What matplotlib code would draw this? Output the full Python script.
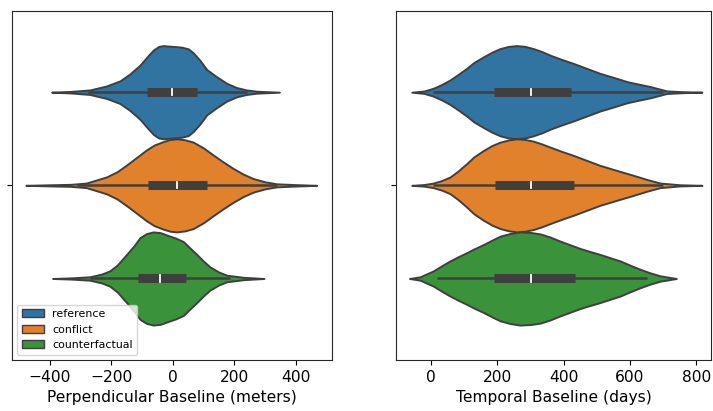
import numpy as np
import matplotlib
matplotlib.use('Agg')
import matplotlib.pyplot as plt
import matplotlib.patches as mpatches

groups = ['reference', 'conflict', 'counterfactual']
colors = ['#3274a1', '#e1812c', '#3a923a']

# violin outlines: value -> relative half width
perp_coords = {
    'reference': [-393, -330, -269, -215, -171, -139, -106, -79, -62, -45, -30, -12, 10, 30, 51, 67, 89, 111, 143, 176, 208, 240, 273, 347],
    'conflict': [-477, -392, -330, -280, -215, -180, -150, -115, -85, -60, -30, -8, 13, 40, 67, 100, 132, 165, 197, 230, 262, 300, 338, 392, 468],
    'counterfactual': [-390, -330, -269, -230, -204, -180, -150, -125, -106, -85, -63, -40, -20, 10, 35, 55, 78, 100, 121, 150, 176, 230, 297],
}
perp_vals = {
    'reference': [0, 0.8, 2.3, 6.3, 11.5, 18.5, 27.5, 37.3, 43, 46.5, 47.3, 46.8, 46.3, 45.7, 44, 40, 32.3, 23, 15.7, 9, 4.7, 2.3, 1, 0],
    'conflict': [0, 0.6, 1.0, 2.3, 8.3, 13.5, 20, 28, 35, 39.8, 43.3, 45.3, 46, 45, 42.7, 37, 30, 23, 16.7, 11, 6.7, 3.5, 1.5, 0.8, 0],
    'counterfactual': [0, 0.6, 1.7, 4.5, 7.7, 13.5, 24, 33, 41, 45, 46.7, 46, 43.7, 40.5, 37, 31, 24.3, 17.5, 11.7, 6.5, 3.3, 1.2, 0],
}
temp_coords = {
    'reference': [-57, -20, 8, 33, 58, 83, 108, 130, 159, 185, 209, 234, 259, 284, 309, 335, 360, 395, 430, 470, 510, 550, 591, 625, 661, 711, 760, 817],
    'conflict': [-57, -20, 8, 33, 58, 83, 108, 130, 159, 185, 209, 234, 259, 284, 309, 335, 360, 395, 430, 470, 510, 560, 611, 650, 691, 750, 817],
    'counterfactual': [-64, -32, 8, 33, 58, 83, 108, 130, 159, 185, 209, 240, 269, 300, 330, 360, 390, 420, 450, 480, 510, 540, 571, 600, 631, 660, 691, 740],
}
temp_vals = {
    'reference': [0, 1.2, 4, 7.8, 12.3, 18, 24, 30, 35.7, 40.5, 44, 46.2, 47, 46.2, 44, 41, 37.3, 33, 29, 24, 19, 15, 10.7, 8.2, 5.7, 1.3, 0.5, 0],
    'conflict': [0, 0.8, 2.3, 4.8, 8.3, 14.5, 21.7, 28.5, 35, 40, 43.3, 45.5, 46.7, 46, 44.3, 41.5, 38.3, 34, 30, 25, 20, 15, 10, 6, 2.3, 0.6, 0],
    'counterfactual': [0, 1.7, 7.7, 12.8, 17.7, 22, 26, 29.8, 34.3, 38.8, 42.7, 45.5, 47, 46.5, 45, 41.8, 37.7, 34, 30.3, 27.2, 24.3, 21, 17.7, 13.5, 9.3, 5.8, 2.7, 0],
}

# inner box stats: whisker low, q1, median, q3, whisker high
perp_box = {
    'reference': [-274, -83, -1, 80, 241],
    'conflict': [-312, -79, 15, 111, 338],
    'counterfactual': [-269, -112, -41, 42, 186],
}
temp_box = {
    'reference': [8, 192, 301, 422, 701],
    'conflict': [8, 194, 301, 433, 701],
    'counterfactual': [20, 192, 301, 435, 651],
}

positions = [-0.8 / 3, 0, 0.8 / 3]
width = 0.8 / 3
edge = '#3f3f3f'


def draw_violins(ax, coords, vals, box):
    stats = []
    for g in groups:
        c = np.array(coords[g], dtype=float)
        v = np.array(vals[g], dtype=float)
        b = box[g]
        stats.append({'coords': c, 'vals': v, 'mean': b[2], 'median': b[2],
                      'min': c[0], 'max': c[-1]})
    parts = ax.violin(stats, positions=positions, orientation='horizontal', widths=width,
                      showmeans=False, showextrema=False, showmedians=False)
    for body, col in zip(parts['bodies'], colors):
        body.set_facecolor(col)
        body.set_edgecolor(edge)
        body.set_alpha(1)
        body.set_linewidth(1.4)
        body.set_joinstyle('round')
    for g, pos in zip(groups, positions):
        lo, q1, med, q3, hi = box[g]
        ax.plot([lo, hi], [pos, pos], color=edge, lw=1.8, solid_capstyle='butt', zorder=3)
        ax.plot([q1, q3], [pos, pos], color=edge, lw=6.5, solid_capstyle='butt', zorder=3)
        ax.plot([med, med], [pos - 0.009, pos + 0.009], color='white', lw=1.3, zorder=4)
    ax.set_ylim(0.5, -0.5)
    ax.set_yticks([0])
    ax.set_yticklabels([''])
    for s in ax.spines.values():
        s.set_color('#262626')


plt.rcParams['font.size'] = 11.2
fig = plt.figure(figsize=(7.13, 4.11), dpi=100)
ax1 = fig.add_axes([0.0164, 0.1241, 0.4488, 0.8499])
ax2 = fig.add_axes([0.555, 0.1241, 0.4425, 0.8499])

draw_violins(ax1, perp_coords, perp_vals, perp_box)
ax1.set_xlim(-523, 517)
ax1.set_xticks([-400, -200, 0, 200, 400])
ax1.set_xlabel('Perpendicular Baseline (meters)')

draw_violins(ax2, temp_coords, temp_vals, temp_box)
ax2.set_xlim(-105.5, 845)
ax2.set_xticks([0, 200, 400, 600, 800])
ax2.set_xlabel('Temporal Baseline (days)')

handles = [mpatches.Patch(facecolor=c, edgecolor=edge, label=g) for g, c in zip(groups, colors)]
ax1.legend(handles=handles, loc='lower left', fontsize=7.9)

fig.savefig('out.png', dpi=100)
